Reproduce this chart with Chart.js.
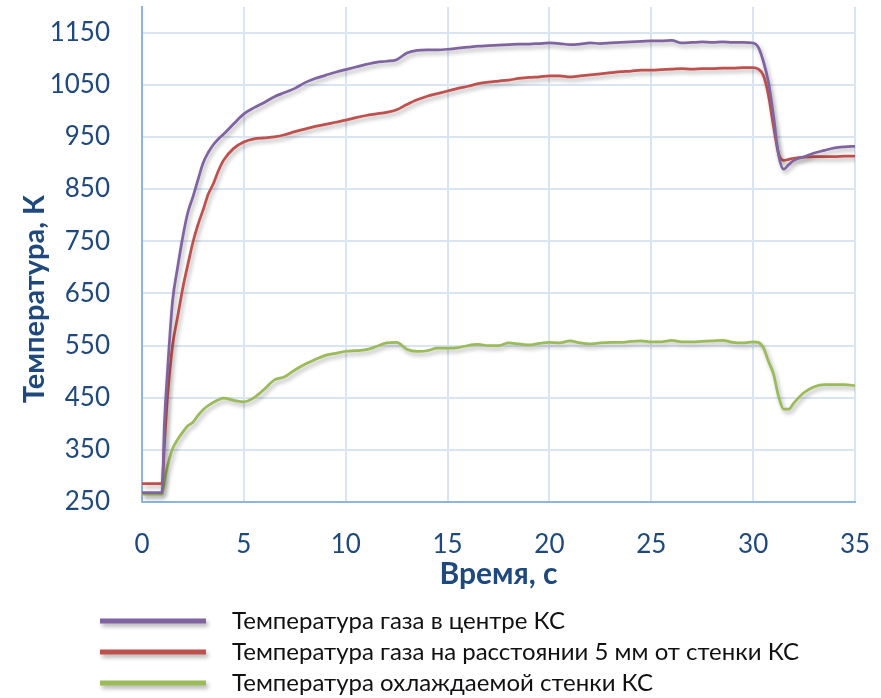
<!DOCTYPE html>
<html lang="ru">
<head>
<meta charset="utf-8">
<title>Температура в камере сгорания</title>
<script src="https://cdn.jsdelivr.net/npm/chart.js@4/dist/chart.umd.min.js"></script>
<style>
  html, body { margin: 0; padding: 0; background: #ffffff; }
  #wrap { width: 881px; height: 698px; position: relative; }
  canvas { display: block; }
</style>
</head>
<body>
<div id="wrap"><canvas id="chart" width="881" height="698"></canvas></div>
<script>
// Время, с
const timeSec = [
  0, 0.5, 0.95, 1.0, 1.1, 1.25, 1.5, 1.75, 2.0, 2.25, 2.5, 2.75, 3.0, 3.25, 3.5, 3.75,
  4.0, 4.5, 5.0, 5.5, 6.0, 6.5, 7.0, 7.5, 8.0, 8.5, 9.0, 9.5, 10.0, 10.5, 11.0, 11.5,
  12.0, 12.5, 13.0, 13.5, 14.0, 14.5, 15.0, 15.5, 16.0, 16.5, 17.0, 17.5, 18.0, 18.5,
  19.0, 19.5, 20.0, 20.5, 21.0, 21.5, 22.0, 22.5, 23.0, 23.5, 24.0, 24.5, 25.0, 25.5,
  26.0, 26.5, 27.0, 27.5, 28.0, 28.5, 29.0, 29.5, 30.0, 30.25, 30.5, 30.75, 31.0, 31.25,
  31.5, 31.75, 32.0, 32.5, 33.0, 33.5, 34.0, 34.5, 35.0
];

// Температура газа в центре КС, К
const gasCenter = [
  268, 268, 268, 275, 400, 500, 635, 700, 758, 805, 835, 868, 900, 920, 935, 946,
  955, 975, 994, 1006, 1016, 1027, 1035, 1043, 1054, 1062, 1068, 1074, 1079, 1084, 1089, 1093,
  1095, 1098, 1111, 1116, 1117, 1117, 1118, 1120, 1122, 1124, 1125, 1126, 1127, 1128,
  1128, 1129, 1130, 1129, 1127, 1128, 1130, 1129, 1130, 1131, 1132, 1133, 1134, 1134,
  1135, 1130, 1131, 1132, 1131, 1132, 1131, 1131, 1130, 1122, 1095, 1055, 990, 915,
  888, 897, 905, 912, 919, 924, 929, 931, 932
];

// Температура газа на расстоянии 5 мм от стенки КС, К
const gasNearWall = [
  285, 285, 285, 290, 360, 450, 550, 605, 660, 705, 748, 782, 810, 840, 860, 885,
  905, 928, 940, 946, 948, 950, 954, 960, 965, 970, 974, 978, 982, 987, 991, 994,
  997, 1002, 1012, 1021, 1028, 1033, 1038, 1043, 1047, 1052, 1055, 1057, 1059, 1062,
  1064, 1065, 1067, 1067, 1065, 1067, 1069, 1071, 1073, 1075, 1076, 1078, 1078, 1079,
  1080, 1081, 1080, 1081, 1081, 1082, 1082, 1083, 1083, 1080, 1068, 1030, 970, 918,
  905, 907, 909, 911, 912, 912, 912, 913, 913
];

// Температура охлаждаемой стенки КС, К
const wallTemp = [
  265, 265, 265, 266, 290, 318, 352, 370, 384, 396, 403, 416, 427, 435, 441, 446,
  449, 445, 442, 450, 466, 484, 490, 503, 514, 523, 531, 535, 539, 540, 542, 548,
  555, 556, 543, 539, 540, 545, 545, 546, 550, 552, 550, 550, 555, 553,
  551, 554, 556, 555, 559, 555, 553, 555, 556, 556, 558, 559, 557, 557,
  560, 557, 557, 558, 559, 560, 556, 555, 557, 556, 546, 520, 495, 452,
  428, 428, 440, 460, 471, 475, 475, 475, 473
];

const seriesLabels = [
  'Температура газа в центре КС',
  'Температура газа на расстоянии 5 мм от стенки КС',
  'Температура охлаждаемой стенки КС'
];
const seriesColors = ['#8064a2', '#c0504d', '#9bbb59'];

const yTickValues = [250, 350, 450, 550, 650, 750, 850, 950, 1050, 1150];
const xTickValues = [0, 5, 10, 15, 20, 25, 30, 35];

const yTitle = 'Температура, К';
const xTitle = 'Время, с';

const axisTextColor = '#1f497d';
const gridColor = '#dae5f3';
const axisLineColor = '#8db4e2';
const FONT = 'Lato, "Open Sans", "Noto Sans", sans-serif';

const toPoints = (vals) => vals.map((v, i) => ({ x: timeSec[i], y: v }));

// soft drop shadow under the data lines
const lineShadow = {
  id: 'lineShadow',
  beforeDatasetsDraw(chart) {
    const ctx = chart.ctx;
    ctx.save();
    ctx.shadowColor = 'rgba(0,0,0,0.30)';
    ctx.shadowBlur = 4;
    ctx.shadowOffsetX = 2;
    ctx.shadowOffsetY = 3;
  },
  afterDatasetsDraw(chart) {
    chart.ctx.restore();
  }
};

// vertical y-axis title and the stacked legend under the plot
const extras = {
  id: 'extras',
  afterDraw(chart) {
    const ctx = chart.ctx;
    ctx.save();
    ctx.fillStyle = axisTextColor;
    ctx.font = 'bold 29px ' + FONT;
    ctx.textAlign = 'center';
    ctx.textBaseline = 'middle';
    ctx.translate(35, 299);
    ctx.rotate(-Math.PI / 2);
    ctx.fillText(yTitle, 0, 0);
    ctx.restore();

    const rows = [621, 652, 683];
    chart.data.datasets.forEach((ds, i) => {
      const y = rows[i];
      ctx.save();
      ctx.shadowColor = 'rgba(0,0,0,0.30)';
      ctx.shadowBlur = 4;
      ctx.shadowOffsetX = 2;
      ctx.shadowOffsetY = 3;
      ctx.strokeStyle = ds.borderColor;
      ctx.lineWidth = 5;
      ctx.lineCap = 'butt';
      ctx.beginPath();
      ctx.moveTo(100, y);
      ctx.lineTo(206, y);
      ctx.stroke();
      ctx.restore();

      ctx.save();
      ctx.fillStyle = '#111111';
      ctx.font = '24px ' + FONT;
      ctx.textAlign = 'left';
      ctx.textBaseline = 'middle';
      ctx.fillText(ds.label, 232, y);
      ctx.restore();
    });
  }
};

new Chart(document.getElementById('chart'), {
  type: 'line',
  data: {
    datasets: [
      { label: seriesLabels[0], data: toPoints(gasCenter), borderColor: seriesColors[0] },
      { label: seriesLabels[1], data: toPoints(gasNearWall), borderColor: seriesColors[1] },
      { label: seriesLabels[2], data: toPoints(wallTemp), borderColor: seriesColors[2] }
    ].map(d => Object.assign(d, {
      borderWidth: 2.75,
      pointRadius: 0,
      fill: false,
      cubicInterpolationMode: 'monotone',
      backgroundColor: d.borderColor
    }))
  },
  options: {
    responsive: false,
    animation: false,
    devicePixelRatio: 1,
    layout: { padding: { left: 0, right: 26, top: 7, bottom: 106 } },
    plugins: {
      legend: { display: false },
      tooltip: { enabled: false }
    },
    scales: {
      x: {
        type: 'linear',
        min: 0,
        max: 35,
        afterBuildTicks(scale) { scale.ticks = xTickValues.map(v => ({ value: v })); },
        afterFit(scale) {
          scale.height = 90;
          scale.paddingLeft = 0;
          scale.paddingRight = 0;
        },
        grid: { color: gridColor, lineWidth: 2, drawTicks: false },
        border: { color: axisLineColor, width: 2 },
        ticks: {
          color: axisTextColor,
          font: { family: FONT, size: 26 },
          padding: 27,
          maxRotation: 0,
          callback: (v) => String(v)
        },
        title: {
          display: true,
          text: xTitle,
          color: axisTextColor,
          font: { family: FONT, size: 30, weight: 'bold' },
          padding: { top: 0, bottom: 0 }
        }
      },
      y: {
        type: 'linear',
        min: 250,
        max: 1199,
        afterBuildTicks(scale) { scale.ticks = yTickValues.map(v => ({ value: v })); },
        afterFit(scale) {
          scale.width = 142;
          scale.paddingTop = 0;
          scale.paddingBottom = 0;
        },
        grid: { color: gridColor, lineWidth: 2, drawTicks: false },
        border: { color: axisLineColor, width: 2 },
        ticks: {
          color: axisTextColor,
          font: { family: FONT, size: 26 },
          padding: 32,
          callback: (v) => String(v)
        }
      }
    }
  },
  plugins: [lineShadow, extras]
});
</script>
</body>
</html>
